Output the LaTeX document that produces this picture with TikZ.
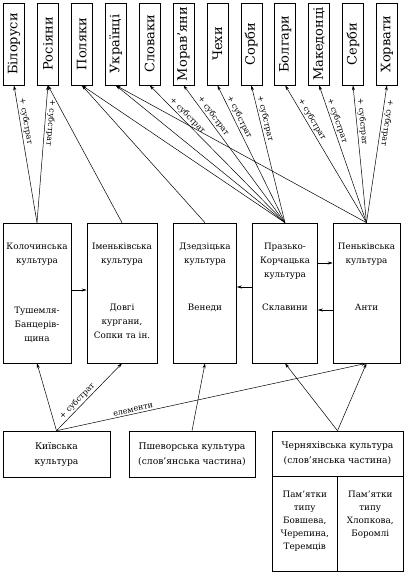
\documentclass[tikz,border=0pt]{standalone}
\usepackage{graphicx}
\usepackage{fontspec}
\setmainfont{DejaVu Serif}
\usetikzlibrary{arrows.meta,positioning}

\tikzset{
	topbox/.style = {draw, line width=0.6pt, minimum width=21pt, minimum height=82pt, inner sep=0pt, font=\fontsize{13}{15}\selectfont},
	midbox/.style = {draw, line width=0.6pt, minimum height=140pt},
	boxtext/.style = {align=center, inner sep=1pt, font=\fontsize{8.8}{14}\selectfont},
	lowbox/.style = {draw, line width=0.6pt, minimum height=46pt, align=center, font=\fontsize{9.2}{15}\selectfont},
	cellbox/.style = {draw, line width=0.6pt, minimum width=65.5pt, minimum height=95pt},
	celltext/.style = {align=center, inner sep=1pt, font=\fontsize{8.8}{12.8}\selectfont},
	lbl/.style = {sloped, above, allow upside down, inner sep=1.5pt, font=\fontsize{8}{9}\selectfont}
}

\begin{document}
\begin{tikzpicture}[x=1pt, y=-1pt, line width=0.5pt, >={Stealth[length=5pt, width=3pt]}]
	\useasboundingbox (0,0) rectangle (404,575);

	\foreach \n/\t [count=\i from 0] in {bil/Білоруси, ros/Росіяни, pol/Поляки, ukr/Українці, slk/Словаки, mor/Морав’яни, che/Чехи, sor/Сорби, bol/Болгари, mak/Македонці, srb/Серби, hor/Хорвати}
		\node[topbox] (\n) at ({14+33.9*\i},44) {\rotatebox{90}{\t}};

	\node[midbox, minimum width=68pt] (kol) at (37,293) {};
	\node[midbox, minimum width=70pt] (imen) at (122,293) {};
	\node[midbox, minimum width=63pt] (dze) at (205,293) {};
	\node[midbox, minimum width=65pt] (pra) at (285,293) {};
	\node[midbox, minimum width=67pt] (pen) at (366.5,293) {};

	\node[boxtext, below=19pt of kol.north] (kolname) {Колочинська\\культура};
	\node[boxtext, below=83pt of kol.north] (kolsub) {Тушемля-\\Банцерів-\\щина};
	\node[boxtext, below=19pt of imen.north] (imenname) {Іменьківська\\культура};
	\node[boxtext, below=80pt of imen.north] (imensub) {Довгі\\кургани,\\Сопки та ін.};
	\node[boxtext, below=19pt of dze.north] (dzename) {Дзедзіцька\\культура};
	\node[boxtext, below=80pt of dze.north] (dzesub) {Венеди};
	\node[boxtext, below=19pt of pra.north] (praname) {Празько-\\Корчацька\\культура};
	\node[boxtext, below=80pt of pra.north] (prasub) {Склавини};
	\node[boxtext, below=19pt of pen.north] (penname) {Пеньківська\\культура};
	\node[boxtext, below=80pt of pen.north] (pensub) {Анти};

	\node[lowbox, minimum width=107pt] (kyiv) at (56.5,454) {Київська\\культура};
	\node[lowbox, minimum width=126pt] (pshe) at (192,454) {Пшеворська культура\\(слов’янська частина)};
	\node[lowbox, minimum width=131pt, minimum height=45pt] (cher) at (337.5,453.5) {Черняхівська культура\\(слов’янська частина)};
	\node[cellbox, anchor=north west] (cherl) at (cher.south west) {};
	\node[cellbox, anchor=north east] (cherr) at (cher.south east) {};
	\node[celltext, below=14pt of cherl.north] (cherltext) {Пам’ятки\\типу\\Бовшева,\\Черепина,\\Теремців};
	\node[celltext, below=14pt of cherr.north] (cherrtext) {Пам’ятки\\типу\\Хлопкова,\\Боромлі};

	\draw[<-] (bil.south) -- node[lbl, pos=0.27]{+ субстрат} (kol.north);
	\draw[<-] (ros.south) -- node[lbl, pos=0.27]{+ субстрат} (kol.north);
	\draw[<-] (ros.south) -- (imen.north);
	\draw[<-] (pol.south) -- (dze.north);
	\draw[<-] (pol.south) -- (pra.north);
	\draw[<-] (ukr.south) -- (pra.north);
	\draw[<-] (ukr.south) -- (pen.north);
	\foreach \n in {slk, mor, che, sor}
		\draw[<-] (\n.south) -- node[lbl, pos=0.25]{+ субстрат} (pra.north);
	\foreach \n in {bol, mak, srb, hor}
		\draw[<-] (\n.south) -- node[lbl, pos=0.27]{+ субстрат} (pen.north);

	\draw[->] ([yshift=3pt]kol.east) -- ([yshift=3pt]imen.west);
	\draw[->] ([yshift=6pt]pra.west) -- ([yshift=6pt]dze.east);
	\draw[->] ([yshift=30pt]pra.east) -- ([yshift=30pt]pen.west);
	\draw[->] ([yshift=-17pt]pen.west) -- ([yshift=-17pt]pra.east);

	\draw[->] (kyiv.north) -- (kol.south);
	\draw[->] (kyiv.north) -- node[lbl, pos=0.38]{+ субстрат} (imen.south);
	\draw[->] (kyiv.north) -- node[lbl, pos=0.25]{елементи} (pen.south);
	\draw[->] (pshe.north) -- (dze.south);
	\draw[->] (cher.north) -- (pra.south);
	\draw[->] (cher.north) -- (pen.south);
\end{tikzpicture}
\end{document}
